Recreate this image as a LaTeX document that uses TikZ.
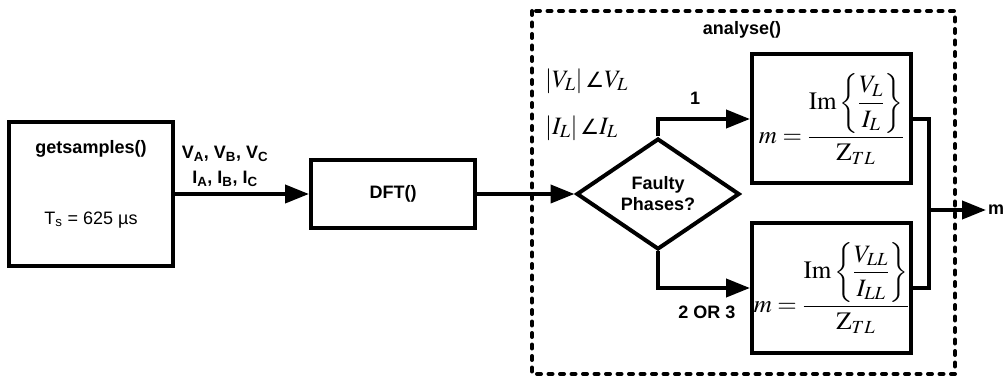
\documentclass[tikz,border=0pt]{standalone}
\usepackage{amsmath}
\usepackage{mathptmx}
\usepackage[no-math]{fontspec}
\setmainfont{Liberation Sans}
\newfontfamily\symfont{DejaVu Sans}
\newcommand{\phasor}{\,\mathord{\mbox{\symfont\fontsize{21}{24}\selectfont ∠}}}
\usetikzlibrary{shapes.geometric,arrows.meta}

\begin{document}
\begin{tikzpicture}[x=1pt,y=-1pt,
    blk/.style={draw,line width=4pt,inner sep=0pt},
    eqbox/.style={draw,line width=4pt,minimum width=159pt,minimum height=129pt,inner sep=0pt,font=\fontsize{25}{29}\selectfont},
    decide/.style={draw,diamond,line width=4pt,minimum width=163pt,minimum height=111pt,inner sep=0pt,align=center,font=\fontsize{18}{21}\selectfont\bfseries},
    lbl/.style={font=\fontsize{18}{20}\selectfont\bfseries,inner sep=0pt},
    mth/.style={font=\fontsize{25}{28}\selectfont,inner sep=0pt},
    wire/.style={line width=4pt,-{Triangle[length=24pt,width=18pt]}},
    ]
    \useasboundingbox (0,0) rectangle (1006,379);
    % analyse() frame
    \coordinate (frameNW) at (532,11);
    \coordinate (frameSE) at (955,374);
    \draw[line width=4pt,dash pattern=on 4pt off 7.5pt,line cap=round] (frameNW) rectangle (frameSE);
    \node[lbl] (frametitle) at (742,30) {analyse()};
    % blocks
    \node[blk,lbl,align=center,minimum width=164pt,minimum height=144pt] (gs) at (91,194)
        {getsamples()\\[51pt]{\normalfont T\textsubscript{s} = 625 µs}\\[4pt]\mbox{}};
    \node[blk,lbl,minimum width=164pt,minimum height=68pt] (dft) at (393,194) {DFT()};
    \node[decide] (fp) at (658,194) {Faulty\\Phases?};
    \node[eqbox] (one) at (831.5,119) {$\displaystyle m=\frac{\mathrm{Im}\left\{\dfrac{V_L}{I_L}\right\}}{\mathrm{Z}_{TL}}$};
    \node[eqbox] (two) at (831.5,288) {$\displaystyle m=\frac{\mathrm{Im}\left\{\dfrac{V_{LL}}{I_{LL}}\right\}}{\mathrm{Z}_{TL}}$};
    \coordinate (jn) at (929,210);
    \node[lbl,anchor=west,inner sep=2pt] (mout) at (986,210) {m};
    % labels
    \node[lbl] (vabc) at (225,154) {V\textsubscript{A}, V\textsubscript{B}, V\textsubscript{C}};
    \node[lbl] (iabc) at (225,179) {I\textsubscript{A}, I\textsubscript{B}, I\textsubscript{C}};
    \node[mth,anchor=west] (vpol) at (545,81) {$\lvert V_L\rvert\phasor V_L$};
    \node[mth,anchor=west] (ipol) at (545,128) {$\lvert I_L\rvert\phasor I_L$};
    \node[lbl] (br1) at (695,98) {1};
    \node[lbl] (br23) at (707,312) {2 OR 3};
    % connectors
    \draw[wire] (gs) -- (dft);
    \draw[wire] (dft) -- (fp);
    \draw[wire] (fp.north) |- (one);
    \draw[wire] (fp.south) |- (two);
    \draw[line width=4pt] (one.east) -| (jn) |- (two.east);
    \draw[wire] (jn) -- (mout);
\end{tikzpicture}
\end{document}
